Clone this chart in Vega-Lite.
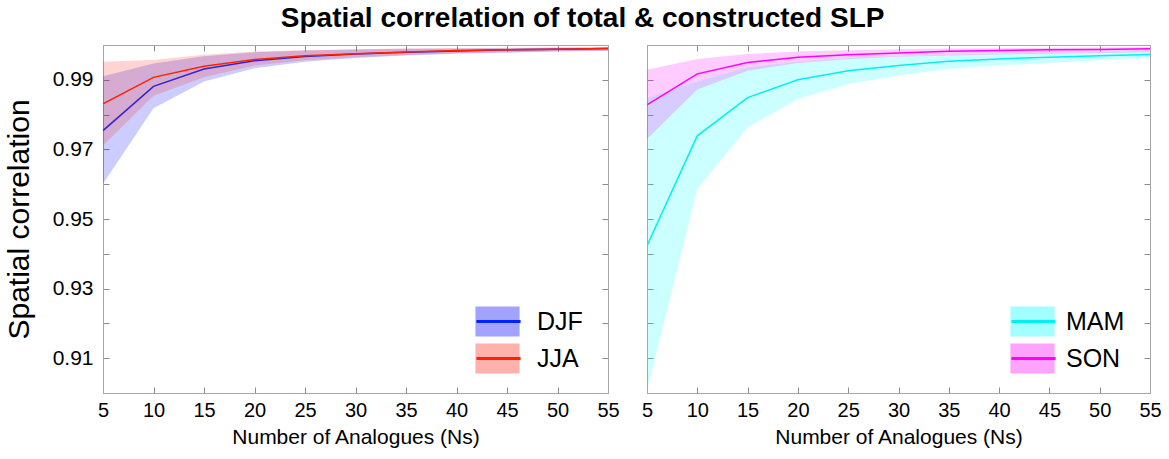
{
  "$schema": "https://vega.github.io/schema/vega-lite/v6.json",
  "padding": {"left": 3, "top": 5, "right": 5, "bottom": 5},
  "title": {"text": "Spatial correlation of total & constructed SLP", "fontSize": 28, "font": "Liberation Sans", "fontWeight": "bold", "anchor": "middle", "offset": 11, "color": "#000"},
  "data": {"values": [
    {"season": "DJF", "ns": 5, "mean": 0.9754, "lo": 0.9601, "hi": 0.9910},
    {"season": "DJF", "ns": 10, "mean": 0.9881, "lo": 0.9818, "hi": 0.9947},
    {"season": "DJF", "ns": 15, "mean": 0.9931, "lo": 0.9895, "hi": 0.9968},
    {"season": "DJF", "ns": 20, "mean": 0.9955, "lo": 0.9933, "hi": 0.9979},
    {"season": "DJF", "ns": 25, "mean": 0.9967, "lo": 0.9952, "hi": 0.9984},
    {"season": "DJF", "ns": 30, "mean": 0.9974, "lo": 0.9963, "hi": 0.9987},
    {"season": "DJF", "ns": 35, "mean": 0.9979, "lo": 0.9970, "hi": 0.9989},
    {"season": "DJF", "ns": 40, "mean": 0.9983, "lo": 0.9975, "hi": 0.9990},
    {"season": "DJF", "ns": 45, "mean": 0.9986, "lo": 0.9978, "hi": 0.9991},
    {"season": "DJF", "ns": 50, "mean": 0.9988, "lo": 0.9981, "hi": 0.9992},
    {"season": "DJF", "ns": 55, "mean": 0.9990, "lo": 0.9983, "hi": 0.9993},
    {"season": "JJA", "ns": 5, "mean": 0.9831, "lo": 0.9711, "hi": 0.9952},
    {"season": "JJA", "ns": 10, "mean": 0.9907, "lo": 0.9854, "hi": 0.9957},
    {"season": "JJA", "ns": 15, "mean": 0.9939, "lo": 0.9907, "hi": 0.9972},
    {"season": "JJA", "ns": 20, "mean": 0.9958, "lo": 0.9941, "hi": 0.9981},
    {"season": "JJA", "ns": 25, "mean": 0.9969, "lo": 0.9956, "hi": 0.9985},
    {"season": "JJA", "ns": 30, "mean": 0.9975, "lo": 0.9965, "hi": 0.9988},
    {"season": "JJA", "ns": 35, "mean": 0.9980, "lo": 0.9971, "hi": 0.9990},
    {"season": "JJA", "ns": 40, "mean": 0.9984, "lo": 0.9976, "hi": 0.9991},
    {"season": "JJA", "ns": 45, "mean": 0.9986, "lo": 0.9979, "hi": 0.9992},
    {"season": "JJA", "ns": 50, "mean": 0.9988, "lo": 0.9982, "hi": 0.9993},
    {"season": "JJA", "ns": 55, "mean": 0.9990, "lo": 0.9984, "hi": 0.9994},
    {"season": "MAM", "ns": 5, "mean": 0.9423, "lo": 0.9007, "hi": 0.9847},
    {"season": "MAM", "ns": 10, "mean": 0.9739, "lo": 0.9586, "hi": 0.9895},
    {"season": "MAM", "ns": 15, "mean": 0.9849, "lo": 0.9763, "hi": 0.9936},
    {"season": "MAM", "ns": 20, "mean": 0.9900, "lo": 0.9845, "hi": 0.9952},
    {"season": "MAM", "ns": 25, "mean": 0.9926, "lo": 0.9888, "hi": 0.9963},
    {"season": "MAM", "ns": 30, "mean": 0.9941, "lo": 0.9912, "hi": 0.9968},
    {"season": "MAM", "ns": 35, "mean": 0.9953, "lo": 0.9931, "hi": 0.9972},
    {"season": "MAM", "ns": 40, "mean": 0.9960, "lo": 0.9941, "hi": 0.9975},
    {"season": "MAM", "ns": 45, "mean": 0.9965, "lo": 0.9948, "hi": 0.9977},
    {"season": "MAM", "ns": 50, "mean": 0.9969, "lo": 0.9956, "hi": 0.9979},
    {"season": "MAM", "ns": 55, "mean": 0.9973, "lo": 0.9962, "hi": 0.9981},
    {"season": "SON", "ns": 5, "mean": 0.9828, "lo": 0.9730, "hi": 0.9929},
    {"season": "SON", "ns": 10, "mean": 0.9917, "lo": 0.9872, "hi": 0.9960},
    {"season": "SON", "ns": 15, "mean": 0.9950, "lo": 0.9926, "hi": 0.9974},
    {"season": "SON", "ns": 20, "mean": 0.9965, "lo": 0.9948, "hi": 0.9981},
    {"season": "SON", "ns": 25, "mean": 0.9972, "lo": 0.9960, "hi": 0.9985},
    {"season": "SON", "ns": 30, "mean": 0.9977, "lo": 0.9966, "hi": 0.9988},
    {"season": "SON", "ns": 35, "mean": 0.9982, "lo": 0.9970, "hi": 0.9990},
    {"season": "SON", "ns": 40, "mean": 0.9984, "lo": 0.9973, "hi": 0.9991},
    {"season": "SON", "ns": 45, "mean": 0.9986, "lo": 0.9975, "hi": 0.9992},
    {"season": "SON", "ns": 50, "mean": 0.9987, "lo": 0.9977, "hi": 0.9993},
    {"season": "SON", "ns": 55, "mean": 0.9989, "lo": 0.9979, "hi": 0.9994}
  ]},
  "spacing": 39,
  "bounds": "flush",
  "resolve": {"scale": {"fill": "independent", "stroke": "independent"}, "legend": {"fill": "independent", "stroke": "independent"}},
  "hconcat": [
    {
      "width": 505,
      "height": 348,
      "resolve": {"axis": {"x": "independent", "y": "independent"}},
      "layer": [
        {
          "transform": [{"filter": "datum.season == 'DJF'"}],
          "mark": {"type": "area", "opacity": 0.2, "clip": true},
          "encoding": {
            "x": {"field": "ns", "type": "quantitative", "scale": {"domain": [5, 55], "nice": false, "zero": false},
                  "axis": {"orient": "bottom", "values": [5,10,15,20,25,30,35,40,45,50,55], "title": "Number of Analogues (Ns)", "labelPadding": 13, "titlePadding": 6, "labelFlush": false}},
            "y": {"field": "lo", "type": "quantitative", "scale": {"domain": [0.9, 1.0], "nice": false, "zero": false},
                  "axis": {"orient": "left", "values": [0.91,0.92,0.93,0.94,0.95,0.96,0.97,0.98,0.99], "labelExpr": "round(datum.value*100) % 2 == 1 ? format(datum.value, '.2f') : ''", "title": "Spatial correlation", "titleFontSize": 30, "labelFontSize": 21, "labelPadding": 16, "titlePadding": 18, "labelFlush": false}},
            "y2": {"field": "hi"},
            "fill": {"field": "season", "type": "nominal", "scale": {"range": ["#0000ff", "#ff2a1a"]},
                     "legend": {"orient": "none", "legendX": 372, "legendY": 261, "title": null, "padding": 0, "symbolType": "M-1,-0.68H1V0.68H-1Z", "symbolSize": 1952, "symbolOpacity": 0.35, "symbolStrokeWidth": 0, "labelFontSize": 25, "labelOffset": 17, "clipHeight": 31, "rowPadding": 6,
                                "encode": {"symbols": {"update": {"opacity": {"value": 0.36}, "strokeWidth": {"value": 0}}}}}}
          }
        },
        {
          "transform": [{"filter": "datum.season == 'DJF'"}],
          "mark": {"type": "line", "strokeWidth": 1.5, "clip": true},
          "encoding": {
            "x": {"field": "ns", "type": "quantitative", "axis": {"orient": "top", "values": [5,10,15,20,25,30,35,40,45,50,55], "labels": false, "title": null}},
            "y": {"field": "mean", "type": "quantitative", "axis": {"orient": "right", "values": [0.91,0.92,0.93,0.94,0.95,0.96,0.97,0.98,0.99], "labels": false, "title": null}},
            "stroke": {"field": "season", "type": "nominal", "scale": {"domain": ["DJF", "JJA"], "range": ["#0022ff", "#ff2200"]},
                       "legend": {"orient": "none", "legendX": 372, "legendY": 261, "title": null, "padding": 0, "symbolType": "M-1,0H1", "symbolSize": 1952, "labelFontSize": 25, "labelOffset": 17, "labelOpacity": 0, "labelExpr": "datum.label + ' '", "clipHeight": 31, "rowPadding": 6,
                                  "encode": {"symbols": {"update": {"strokeWidth": {"value": 2.8}, "fill": {"value": "transparent"}}}}}}
          }
        },
        {
          "transform": [{"filter": "datum.season == 'JJA'"}],
          "mark": {"type": "area", "opacity": 0.2, "clip": true},
          "encoding": {
            "x": {"field": "ns", "type": "quantitative", "axis": null},
            "y": {"field": "lo", "type": "quantitative", "axis": null},
            "y2": {"field": "hi"},
            "fill": {"field": "season", "type": "nominal"}
          }
        },
        {
          "transform": [{"filter": "datum.season == 'JJA'"}],
          "mark": {"type": "line", "strokeWidth": 1.5, "clip": true},
          "encoding": {
            "x": {"field": "ns", "type": "quantitative", "axis": null},
            "y": {"field": "mean", "type": "quantitative", "axis": null},
            "stroke": {"field": "season", "type": "nominal"}
          }
        }
      ]
    },
    {
      "width": 503,
      "height": 348,
      "resolve": {"axis": {"x": "independent", "y": "independent"}},
      "layer": [
        {
          "transform": [{"filter": "datum.season == 'MAM'"}],
          "mark": {"type": "area", "opacity": 0.2, "clip": true},
          "encoding": {
            "x": {"field": "ns", "type": "quantitative", "scale": {"domain": [5, 55], "nice": false, "zero": false},
                  "axis": {"orient": "bottom", "values": [5,10,15,20,25,30,35,40,45,50,55], "title": "Number of Analogues (Ns)", "labelPadding": 13, "titlePadding": 6, "labelFlush": false}},
            "y": {"field": "lo", "type": "quantitative", "scale": {"domain": [0.9, 1.0], "nice": false, "zero": false},
                  "axis": {"orient": "left", "values": [0.91,0.92,0.93,0.94,0.95,0.96,0.97,0.98,0.99], "labels": false, "title": null}},
            "y2": {"field": "hi"},
            "fill": {"field": "season", "type": "nominal", "scale": {"range": ["#00ffff", "#ff00ff"]},
                     "legend": {"orient": "none", "legendX": 363, "legendY": 261, "title": null, "padding": 0, "symbolType": "M-1,-0.68H1V0.68H-1Z", "symbolSize": 1952, "symbolOpacity": 0.35, "symbolStrokeWidth": 0, "labelFontSize": 25, "labelOffset": 11, "clipHeight": 31, "rowPadding": 6,
                                "encode": {"symbols": {"update": {"opacity": {"value": 0.36}, "strokeWidth": {"value": 0}}}}}}
          }
        },
        {
          "transform": [{"filter": "datum.season == 'MAM'"}],
          "mark": {"type": "line", "strokeWidth": 1.5, "clip": true},
          "encoding": {
            "x": {"field": "ns", "type": "quantitative", "axis": {"orient": "top", "values": [5,10,15,20,25,30,35,40,45,50,55], "labels": false, "title": null}},
            "y": {"field": "mean", "type": "quantitative", "axis": {"orient": "right", "values": [0.91,0.92,0.93,0.94,0.95,0.96,0.97,0.98,0.99], "labels": false, "title": null}},
            "stroke": {"field": "season", "type": "nominal", "scale": {"domain": ["MAM", "SON"], "range": ["#00f0f0", "#ff00ff"]},
                       "legend": {"orient": "none", "legendX": 363, "legendY": 261, "title": null, "padding": 0, "symbolType": "M-1,0H1", "symbolSize": 1952, "labelFontSize": 25, "labelOffset": 11, "labelOpacity": 0, "labelExpr": "datum.label + ' '", "clipHeight": 31, "rowPadding": 6,
                                  "encode": {"symbols": {"update": {"strokeWidth": {"value": 2.8}, "fill": {"value": "transparent"}}}}}}
          }
        },
        {
          "transform": [{"filter": "datum.season == 'SON'"}],
          "mark": {"type": "area", "opacity": 0.2, "clip": true},
          "encoding": {
            "x": {"field": "ns", "type": "quantitative", "axis": null},
            "y": {"field": "lo", "type": "quantitative", "axis": null},
            "y2": {"field": "hi"},
            "fill": {"field": "season", "type": "nominal"}
          }
        },
        {
          "transform": [{"filter": "datum.season == 'SON'"}],
          "mark": {"type": "line", "strokeWidth": 1.5, "clip": true},
          "encoding": {
            "x": {"field": "ns", "type": "quantitative", "axis": null},
            "y": {"field": "mean", "type": "quantitative", "axis": null},
            "stroke": {"field": "season", "type": "nominal"}
          }
        }
      ]
    }
  ],
  "config": {
    "font": "Liberation Sans",
    "view": {"stroke": "#a6a6a6", "strokeWidth": 1},
    "axis": {"grid": false, "domainColor": "#a6a6a6", "tickColor": "#8c8c8c", "tickSize": -6, "labelFont": "Liberation Sans", "labelFontSize": 20, "labelColor": "#000", "titleFont": "Liberation Sans", "titleFontSize": 21, "titleFontWeight": "normal", "titleColor": "#000"},
    "legend": {"labelFont": "Liberation Sans", "labelFontSize": 25, "labelColor": "#000"}
  }
}
